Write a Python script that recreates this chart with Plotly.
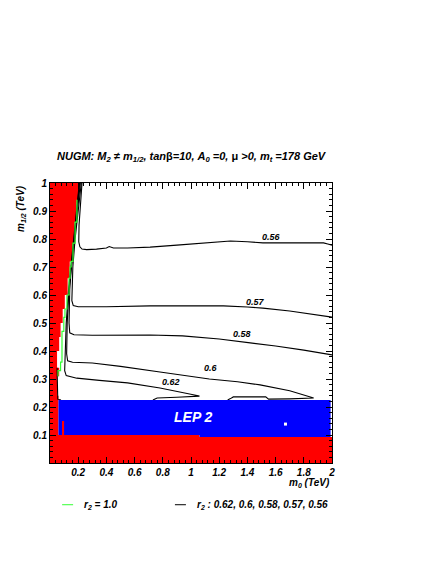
import plotly.graph_objects as go

# ---------------- data (m0 [TeV], m1/2 [TeV]) ----------------
# excluded region (red): staircase boundary on the left plus band at bottom
red_m0 = [0, 0.206, 0.206, 0.19, 0.19, 0.175, 0.175, 0.16, 0.16, 0.14, 0.14, 0.125, 0.125,
          0.105, 0.105, 0.09, 0.09, 0.075, 0.075, 0.065, 0.065, 0.05, 0.05, 0.065, 0.065,
          0.05, 0.05, 0.06, 0.06, 1.06, 1.06, 2.0, 2.0, 0]
red_m12 = [1.0, 1.0, 0.93, 0.93, 0.86, 0.86, 0.78, 0.78, 0.72, 0.72, 0.66, 0.66, 0.60,
           0.60, 0.55, 0.55, 0.50, 0.50, 0.45, 0.45, 0.40, 0.40, 0.34, 0.34, 0.31,
           0.31, 0.24, 0.24, 0.10, 0.10, 0.093, 0.093, 0.0, 0.0]
red_bar_m0 = [0.085, 0.10, 0.10, 0.085]
red_bar_m12 = [0.10, 0.10, 0.15, 0.15]

# LEP 2 excluded region (blue)
lep_m0 = [0.06, 1.99, 1.99, 1.06, 1.06, 0.06]
lep_m12 = [0.225, 0.225, 0.093, 0.093, 0.10, 0.10]
dot_m0 = [1.67]
dot_m12 = [0.139]

# r2 = 1.0 (green)
g_m0 = [0.057, 0.057, 0.075, 0.085, 0.085, 0.098, 0.106, 0.12, 0.135, 0.142, 0.15, 0.163, 0.163, 0.178, 0.191, 0.191]
g_m12 = [0.31, 0.33, 0.36, 0.43, 0.47, 0.52, 0.55, 0.60, 0.66, 0.70, 0.72, 0.77, 0.785, 0.86, 0.93, 0.94]

# r2 contours (black)
c056_m0 = [0.227, 0.215, 0.206, 0.204, 0.212, 0.227, 0.26, 0.33, 0.40, 0.42, 0.45, 0.55, 0.71, 0.9, 1.1, 1.28, 1.4, 1.51, 1.7, 1.94, 1.97, 2.0]
c056_m12 = [1.0, 0.93, 0.85, 0.79, 0.772, 0.764, 0.762, 0.764, 0.768, 0.773, 0.768, 0.768, 0.771, 0.778, 0.786, 0.793, 0.79, 0.786, 0.786, 0.786, 0.782, 0.778]

c057_m0 = [0.222, 0.2, 0.178, 0.162, 0.155, 0.155, 0.165, 0.2, 0.4, 0.71, 1.0, 1.23, 1.4, 1.51, 1.7, 1.85, 2.0]
c057_m12 = [1.0, 0.9, 0.8, 0.7, 0.62, 0.58, 0.562, 0.558, 0.558, 0.561, 0.561, 0.561, 0.557, 0.553, 0.543, 0.533, 0.521]

c058_m0 = [0.215, 0.193, 0.172, 0.152, 0.14, 0.135, 0.14, 0.17, 0.3, 0.5, 0.71, 0.94, 1.2, 1.42, 1.6, 1.8, 2.0]
c058_m12 = [1.0, 0.9, 0.8, 0.7, 0.62, 0.5, 0.465, 0.458, 0.456, 0.457, 0.457, 0.454, 0.443, 0.429, 0.418, 0.403, 0.386]

c060_m0 = [0.21, 0.19, 0.168, 0.148, 0.135, 0.122, 0.118, 0.125, 0.16, 0.3, 0.5, 0.78, 1.13, 1.33, 1.49, 1.7, 1.87,
           1.7, 1.55, 1.53, 1.3, 1.28, 1.26]
c060_m12 = [1.0, 0.9, 0.8, 0.7, 0.62, 0.5, 0.39, 0.365, 0.36, 0.357, 0.345, 0.325, 0.30, 0.29, 0.279, 0.258, 0.232,
            0.229, 0.228, 0.236, 0.236, 0.23, 0.225]

c062_m0 = [0.208, 0.187, 0.165, 0.145, 0.132, 0.115, 0.106, 0.104, 0.115, 0.19, 0.35, 0.55, 0.78, 0.95, 1.06,
           0.9, 0.76, 0.73]
c062_m12 = [1.0, 0.9, 0.8, 0.7, 0.62, 0.5, 0.4, 0.33, 0.312, 0.303, 0.295, 0.286, 0.268, 0.25, 0.239,
            0.235, 0.232, 0.225]

cedge_m0 = [0.05, 0.05, 0.055, 0.078]
cedge_m12 = [0.34, 0.235, 0.228, 0.225]

contour_labels = ["0.56", "0.57", "0.58", "0.6", "0.62"]
label_m0 = [1.57, 1.46, 1.36, 1.14, 0.86]
label_m12 = [0.807, 0.575, 0.461, 0.339, 0.289]

x_ticks = [0.2, 0.4, 0.6, 0.8, 1.0, 1.2, 1.4, 1.6, 1.8, 2.0]
x_ticktext = ["0.2", "0.4", "0.6", "0.8", "1", "1.2", "1.4", "1.6", "1.8", "2"]
y_ticks = [0.1, 0.2, 0.3, 0.4, 0.5, 0.6, 0.7, 0.8, 0.9, 1.0]
y_ticktext = ["0.1", "0.2", "0.3", "0.4", "0.5", "0.6", "0.7", "0.8", "0.9", "1"]

# ---------------- figure ----------------
FONT = "Liberation Sans, Arial, sans-serif"
RED = "#ff0000"
BLUE = "#0000ff"

fig = go.Figure()
fig.add_trace(go.Scatter(x=red_m0, y=red_m12, fill="toself", fillcolor=RED, mode="none", hoverinfo="skip"))
fig.add_trace(go.Scatter(x=red_bar_m0, y=red_bar_m12, fill="toself", fillcolor=RED, mode="none", hoverinfo="skip"))

for xs, ys in [(c056_m0, c056_m12), (c057_m0, c057_m12), (c058_m0, c058_m12),
               (c060_m0, c060_m12), (c062_m0, c062_m12), (cedge_m0, cedge_m12)]:
    fig.add_trace(go.Scatter(x=xs, y=ys, mode="lines", line=dict(color="black", width=1.1), hoverinfo="skip"))

fig.add_trace(go.Scatter(x=lep_m0, y=lep_m12, fill="toself", fillcolor=BLUE, mode="none", hoverinfo="skip"))
fig.add_trace(go.Scatter(x=red_bar_m0, y=red_bar_m12, fill="toself", fillcolor=RED, mode="none", hoverinfo="skip"))
fig.add_trace(go.Scatter(x=dot_m0, y=dot_m12, mode="markers", marker=dict(color="white", size=3, symbol="square"), hoverinfo="skip"))
fig.add_trace(go.Scatter(x=g_m0, y=g_m12, mode="lines", line=dict(color="#33ff33", width=1.2, shape="hv"), hoverinfo="skip"))

for t, xv, yv in zip(contour_labels, label_m0, label_m12):
    fig.add_annotation(x=xv, y=yv, text=t, showarrow=False, xref="x", yref="y",
                       font=dict(family=FONT, size=9, color="black", weight="bold", style="italic"))

fig.add_annotation(x=1.02, y=0.164, text="LEP 2", showarrow=False, xref="x", yref="y",
                   font=dict(family=FONT, size=14, color="white", weight="bold", style="italic"))

# title
fig.add_annotation(x=0.504, y=1.125, xref="paper", yref="paper", showarrow=False,
                   text="NUGM: M<sub>2</sub> ≠ m<sub>1/2</sub>, tan<span style='font-style:normal'>β</span>=10, A<sub>0</sub> =0, "
                        "<span style='font-style:normal'>μ</span> >0, m<sub>t</sub> =178 GeV",
                   font=dict(family=FONT, size=11, color="black", weight="bold", style="italic"))
# axis titles
fig.add_annotation(x=-0.105, y=1.0, xref="paper", yref="paper", showarrow=False, textangle=-90,
                   xanchor="center", yanchor="top", text="m<sub>1/2</sub> (TeV)",
                   font=dict(family=FONT, size=10, color="black", weight="bold", style="italic"))
fig.add_annotation(x=1.0, y=-0.072, xref="paper", yref="paper", showarrow=False,
                   xanchor="right", yanchor="middle", text="m<sub>0</sub> (TeV)",
                   font=dict(family=FONT, size=10, color="black", weight="bold", style="italic"))

# legend
LEG_Y = -0.18
LEG_LINE_Y = -0.149
fig.add_shape(type="line", xref="paper", yref="paper", x0=0.043, x1=0.082, y0=LEG_LINE_Y, y1=LEG_LINE_Y,
              line=dict(color="#33ff33", width=1))
fig.add_annotation(x=0.113, y=LEG_Y, xref="paper", yref="paper", showarrow=False, xanchor="left",
                   text="r<sub>2</sub> = 1.0",
                   font=dict(family=FONT, size=10, color="black", weight="bold", style="italic"))
fig.add_shape(type="line", xref="paper", yref="paper", x0=0.443, x1=0.482, y0=LEG_LINE_Y, y1=LEG_LINE_Y,
              line=dict(color="black", width=1))
fig.add_annotation(x=0.514, y=LEG_Y, xref="paper", yref="paper", showarrow=False, xanchor="left",
                   text="r<sub>2</sub> : 0.62, 0.6, 0.58, 0.57, 0.56",
                   font=dict(family=FONT, size=10, color="black", weight="bold", style="italic"))

tickfont = dict(family=FONT, size=10, color="black", weight="bold", style="italic")
fig.update_xaxes(range=[0, 2], tickvals=x_ticks, ticktext=x_ticktext, ticks="inside", ticklen=6,
                 tickcolor="black", mirror="allticks", showline=True, linecolor="black", linewidth=1,
                 showgrid=False, zeroline=False, tickfont=tickfont,
                 minor=dict(dtick=0.04, ticks="inside", ticklen=3, tickcolor="black", showgrid=False))
fig.update_yaxes(range=[0, 1], tickvals=y_ticks, ticktext=y_ticktext, ticks="inside", ticklen=6,
                 tickcolor="black", mirror="allticks", showline=True, linecolor="black", linewidth=1,
                 showgrid=False, zeroline=False, tickfont=tickfont,
                 minor=dict(dtick=0.02, ticks="inside", ticklen=3, tickcolor="black", showgrid=False))

# page body has an 8px default margin, so the figure is 16px smaller with margins shifted
fig.update_layout(width=428, height=556, margin=dict(l=42, r=104, t=175, b=101),
                  paper_bgcolor="white", plot_bgcolor="white", showlegend=False,
                  font=dict(family=FONT, color="black"))
fig.write_html("out.html")
